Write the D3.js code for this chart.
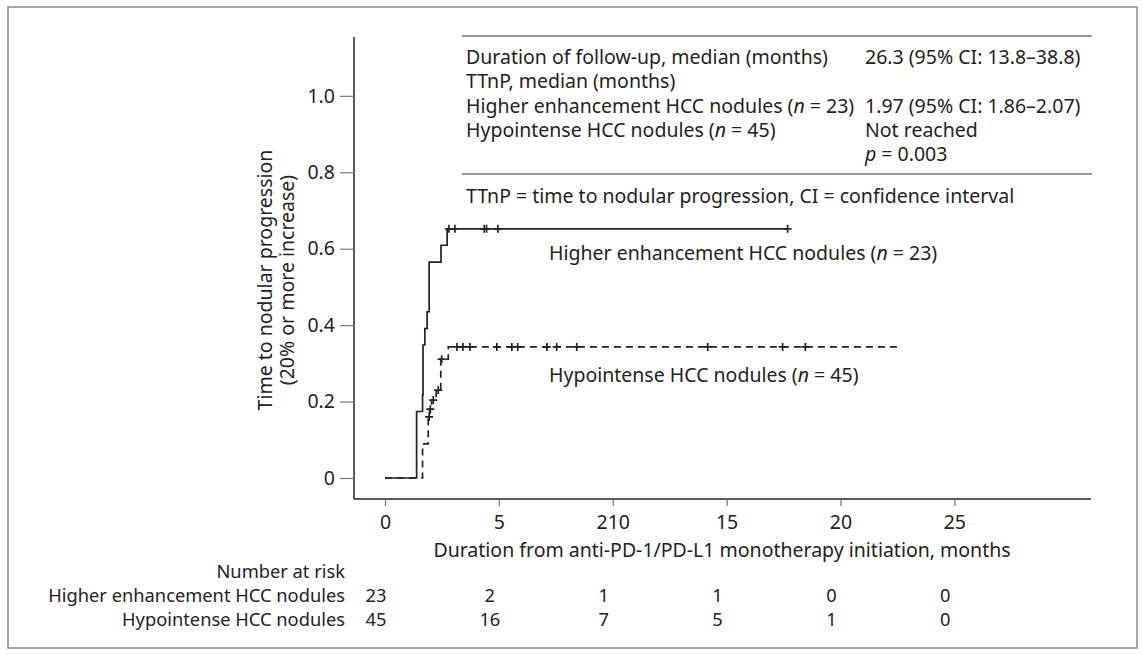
<!DOCTYPE html>
<html><head><meta charset="utf-8">
<script src="https://cdn.jsdelivr.net/npm/d3@7"></script>
<style>body{margin:0;background:#fff;} text{font-family:"Noto Sans",sans-serif;fill:#222;}</style>
</head><body><svg id="c" width="1143" height="655"></svg>
<script>
// ---- data ----
const xTicks = [0, 5, 10, 15, 20, 25];
const xTickLabels = ["0", "5", "210", "15", "20", "25"];
const yTicks = [0, 0.2, 0.4, 0.6, 0.8, 1.0];
const groups = ["Higher enhancement HCC nodules", "Hypointense HCC nodules"];
// step events: [month, cumulative proportion]
const higherSteps = [[0,0],[1.39,0.174],[1.65,0.217],[1.67,0.348],[1.75,0.391],[1.85,0.435],[1.94,0.565],[2.46,0.609],[2.73,0.652],[17.68,0.652]];
const higherCensor = [2.81, 3.07, 4.36, 4.46, 4.96, 17.68];
const hypoSteps = [[0,0],[1.65,0.089],[1.90,0.160],[1.96,0.180],[2.05,0.204],[2.25,0.230],[2.45,0.311],[2.78,0.343],[22.7,0.343]];
const hypoCensor = [[1.94,0.160],[1.99,0.180],[2.12,0.204],[2.34,0.230],[2.49,0.311],
  [3.16,0.343],[3.42,0.343],[3.73,0.343],[4.91,0.343],[5.57,0.343],[5.83,0.343],[7.11,0.343],[7.54,0.343],[8.42,0.343],[14.17,0.343],[17.46,0.343],[18.46,0.343]];
const riskHigher = [23, 2, 1, 1, 0, 0];
const riskHypo = [45, 16, 7, 5, 1, 0];
const tableLeft = ["Duration of follow-up, median (months)", "TTnP, median (months)", "Higher enhancement HCC nodules (|n| = 23)", "Hypointense HCC nodules (|n| = 45)", ""];
const tableRight = ["26.3 (95% CI: 13.8–38.8)", "", "1.97 (95% CI: 1.86–2.07)", "Not reached", "|p| = 0.003"];

const FS = 19.5, RFS = 18.3;
const svg = d3.select("#c");
const x = d3.scaleLinear().domain([-1.36, 31]).range([354, 1091]);
const y = d3.scaleLinear().domain([-0.055, 1.154]).range([499, 37]);
const ink = "#222";

// frame
svg.append("rect").attr("x",8).attr("y",7).attr("width",1129).attr("height",641)
  .attr("fill","none").attr("stroke","#888").attr("stroke-width",1.5);

// axes
const xAxis = d3.axisBottom(x).tickValues(xTicks).tickSize(7).tickFormat((d,i)=>xTickLabels[i]);
const gx = svg.append("g").attr("transform","translate(0,499)").call(xAxis);
const yAxis = d3.axisLeft(y).tickValues(yTicks).tickSize(14).tickFormat(d=> d===0 ? "0" : d.toFixed(1));
const gy = svg.append("g").attr("transform","translate(354,0)").call(yAxis);
[gx,gy].forEach(g=>{
  g.selectAll(".domain").attr("stroke",ink).attr("stroke-width",1.5);
  g.selectAll(".tick line").attr("stroke","#777").attr("stroke-width",1.2);
  g.selectAll("text").attr("font-size",FS).attr("fill","#333").style("font-family","'Noto Sans',sans-serif");
});
gx.select(".domain").attr("d","M354,0H1091");
gy.select(".domain").attr("d","M0,37V499");
gx.selectAll("text").attr("y",30).attr("dy",0);
gy.selectAll("text").attr("dx","-2");

// y title
const yt = svg.append("text").attr("transform","translate(272,280) rotate(-90)").attr("text-anchor","middle").attr("font-size",FS);
yt.append("tspan").attr("x",0).attr("dy",0).text("Time to nodular progression");
yt.append("tspan").attr("x",0).attr("dy","1.13em").text("(20% or more increase)");

// x title
svg.append("text").attr("x",722).attr("y",557).attr("text-anchor","middle").attr("font-size",FS)
  .text("Duration from anti-PD-1/PD-L1 monotherapy initiation, months");

// curves
const line = d3.line().x(d=>x(d[0])).y(d=>y(d[1])).curve(d3.curveStepAfter);
svg.append("path").datum(higherSteps).attr("d",line).attr("fill","none").attr("stroke",ink).attr("stroke-width",1.7);
svg.append("path").datum(hypoSteps).attr("d",line).attr("fill","none").attr("stroke",ink).attr("stroke-width",1.7).attr("stroke-dasharray","7,5");

function cross(px,py){
  svg.append("path").attr("d",`M${px-4},${py}H${px+4}M${px},${py-4}V${py+4}`).attr("stroke",ink).attr("stroke-width",1.7);
}
higherCensor.forEach(t=>cross(x(t), y(0.652)));
hypoCensor.forEach(d=>cross(x(d[0]), y(d[1])));

function richText(sel, str){
  str.split("|").forEach((s,i)=>{ if(s) sel.append("tspan").attr("font-style", i%2 ? "italic":"normal").text(s); });
}
// curve labels
richText(svg.append("text").attr("x",549).attr("y",260).attr("font-size",FS), "Higher enhancement HCC nodules (|n| = 23)");
richText(svg.append("text").attr("x",549).attr("y",382).attr("font-size",FS), "Hypointense HCC nodules (|n| = 45)");

// table
svg.append("line").attr("x1",462).attr("x2",1092).attr("y1",36).attr("y2",36).attr("stroke","#333").attr("stroke-width",1.2);
svg.append("line").attr("x1",462).attr("x2",1092).attr("y1",174).attr("y2",174).attr("stroke","#333").attr("stroke-width",1.2);
tableLeft.forEach((t,i)=>{ richText(svg.append("text").attr("x",466).attr("y",64+i*24.3).attr("font-size",FS), t); });
tableRight.forEach((t,i)=>{ richText(svg.append("text").attr("x",865).attr("y",64+i*24.3).attr("font-size",FS), t); });
svg.append("text").attr("x",466).attr("y",203).attr("font-size",FS).text("TTnP = time to nodular progression, CI = confidence interval");

// number at risk
svg.append("text").attr("x",345).attr("y",578).attr("text-anchor","end").attr("font-size",RFS).text("Number at risk");
svg.append("text").attr("x",345).attr("y",602).attr("text-anchor","end").attr("font-size",RFS).text(groups[0]);
svg.append("text").attr("x",345).attr("y",626).attr("text-anchor","end").attr("font-size",RFS).text(groups[1]);
[riskHigher, riskHypo].forEach((arr,r)=>{
  svg.selectAll(null).data(arr).enter().append("text")
    .attr("x",(d,i)=>x(xTicks[i]) - 9).attr("y",602+r*24).attr("text-anchor","middle").attr("font-size",RFS).text(d=>d);
});
</script></body></html>
